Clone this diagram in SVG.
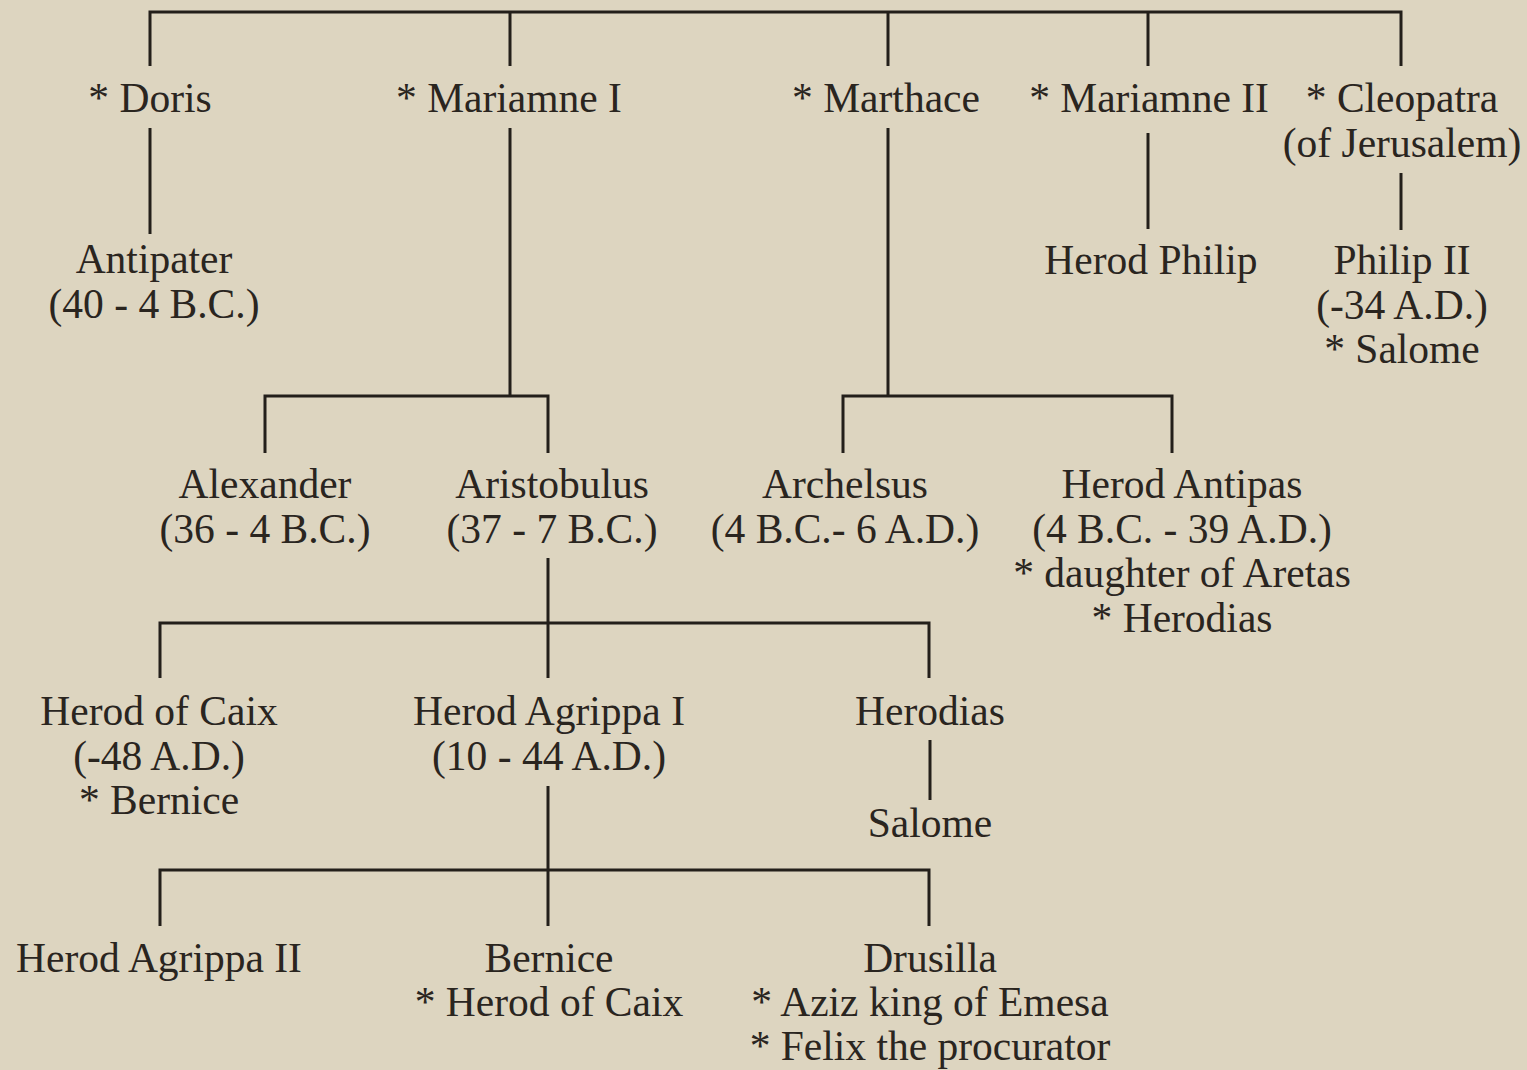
<svg xmlns="http://www.w3.org/2000/svg" width="1527" height="1070" viewBox="0 0 1527 1070">
<style>
  .t { font-family: "Liberation Serif", "Times New Roman", serif; font-size: 41.5px; fill: #2a251f; text-anchor: middle; }
  .c { stroke: #231f1a; stroke-width: 3; fill: none; }
</style>
<rect x="0" y="0" width="1527" height="1070" fill="#ddd5c0"/>
<g id="connectors" class="c">
  <path d="M150,66 V12 H1401 V66"/>
  <path d="M510,12 V66 M888,12 V66 M1148,12 V66"/>
  <path d="M150,128 V234"/>
  <path d="M1148,133 V229"/>
  <path d="M1401,173 V230"/>
  <path d="M510,128 V396 M265,453 V396 H548 V453"/>
  <path d="M888,128 V396 M843,453 V396 H1172 V453"/>
  <path d="M548,558 V678 M160,678 V623 H929 V678"/>
  <path d="M930,740 V800"/>
  <path d="M548,786 V926 M160,926 V870 H929 V926"/>
</g>
<g id="doris"><text class="t" x="150" y="112">* Doris</text></g>
<g id="mariamne1"><text class="t" x="509" y="112">* Mariamne I</text></g>
<g id="marthace"><text class="t" x="886" y="112">* Marthace</text></g>
<g id="mariamne2"><text class="t" x="1149" y="112">* Mariamne II</text></g>
<g id="cleopatra"><text class="t" x="1402" y="112">* Cleopatra</text><text class="t" x="1402" y="157">(of Jerusalem)</text></g>
<g id="antipater"><text class="t" x="154" y="273">Antipater</text><text class="t" x="154" y="318">(40 - 4 B.C.)</text></g>
<g id="herodphilip"><text class="t" x="1151" y="274">Herod Philip</text></g>
<g id="philip2"><text class="t" x="1402" y="274">Philip II</text><text class="t" x="1402" y="319">(-34 A.D.)</text><text class="t" x="1402" y="363">* Salome</text></g>
<g id="alexander"><text class="t" x="265" y="498">Alexander</text><text class="t" x="265" y="543">(36 - 4 B.C.)</text></g>
<g id="aristobulus"><text class="t" x="552" y="498">Aristobulus</text><text class="t" x="552" y="543">(37 - 7 B.C.)</text></g>
<g id="archelsus"><text class="t" x="845" y="498">Archelsus</text><text class="t" x="845" y="543">(4 B.C.- 6 A.D.)</text></g>
<g id="antipas"><text class="t" x="1182" y="498">Herod Antipas</text><text class="t" x="1182" y="543">(4 B.C. - 39 A.D.)</text><text class="t" x="1182" y="587">* daughter of Aretas</text><text class="t" x="1182" y="632">* Herodias</text></g>
<g id="herodcaix"><text class="t" x="159" y="725">Herod of Caix</text><text class="t" x="159" y="770">(-48 A.D.)</text><text class="t" x="159" y="814">* Bernice</text></g>
<g id="agrippa1"><text class="t" x="549" y="725">Herod Agrippa I</text><text class="t" x="549" y="770">(10 - 44 A.D.)</text></g>
<g id="herodias"><text class="t" x="930" y="725">Herodias</text></g>
<g id="salome"><text class="t" x="930" y="837">Salome</text></g>
<g id="agrippa2"><text class="t" x="159" y="972">Herod Agrippa II</text></g>
<g id="bernice"><text class="t" x="549" y="972">Bernice</text><text class="t" x="549" y="1016">* Herod of Caix</text></g>
<g id="drusilla"><text class="t" x="930" y="972">Drusilla</text><text class="t" x="930" y="1016">* Aziz king of Emesa</text><text class="t" x="930" y="1060">* Felix the procurator</text></g>
</svg>
